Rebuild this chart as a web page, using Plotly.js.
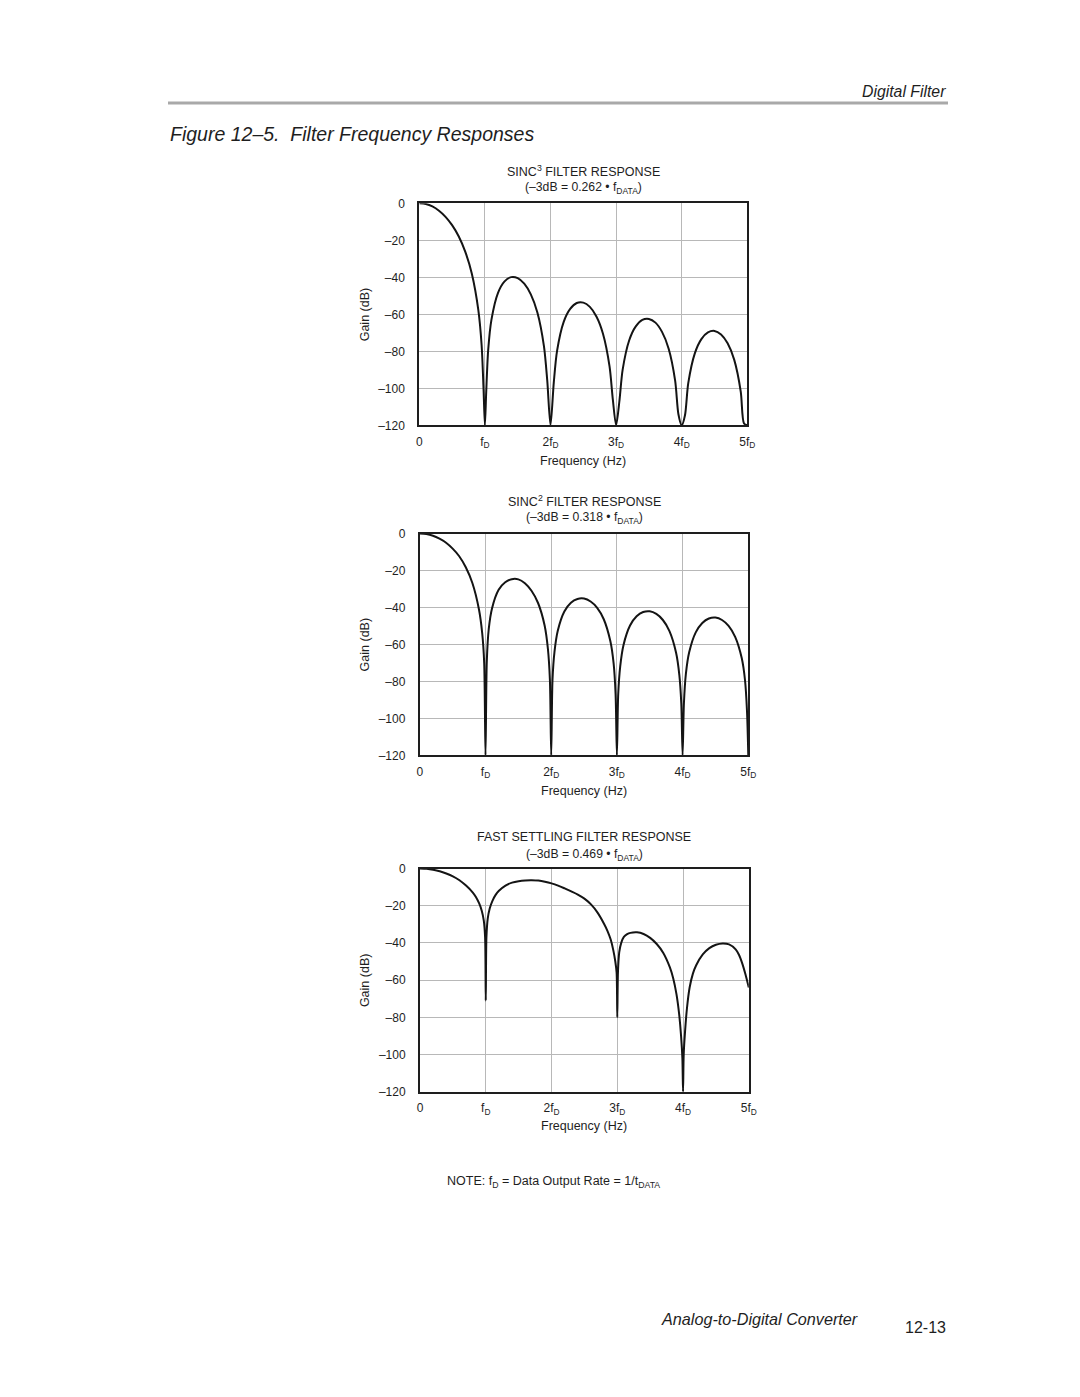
<!DOCTYPE html>
<html>
<head>
<meta charset="utf-8">
<script src="https://cdn.plot.ly/plotly-3.0.1.min.js"></script>
<style>
  html, body { margin: 0; padding: 0; background: #fff; }
  #chart { width: 1080px; height: 1397px; }
</style>
</head>
<body>
<div id="chart"></div>
<script>
// ---------------- DATA ----------------
// x in units of fD (data output rate), y in dB
const xTickVals = [0, 1, 2, 3, 4, 5];
const xTickText = ['0', 'f<sub>D</sub>', '2f<sub>D</sub>', '3f<sub>D</sub>', '4f<sub>D</sub>', '5f<sub>D</sub>'];
const yTickVals = [0, -20, -40, -60, -80, -100, -120];
const yTickText = ['0', '\u201320', '\u201340', '\u201360', '\u201380', '\u2013100', '\u2013120'];

// SINC3 filter response
const sinc3X = [0,0.1,0.2,0.3,0.4,0.5,0.6,0.7,0.8,0.9,0.95,0.98,1,1.02,1.05,1.1,1.2,1.3,1.4,1.5,1.6,1.7,1.8,1.9,1.95,2,2.05,2.1,2.2,2.3,2.4,2.5,2.6,2.7,2.8,2.9,2.95,3,3.05,3.1,3.2,3.3,3.4,3.5,3.6,3.7,3.8,3.9,3.95,4,4.05,4.1,4.2,4.3,4.4,4.5,4.6,4.7,4.8,4.9,4.95,5];
const sinc3Y = [0,-0.4,-1.7,-4.0,-7.3,-11.8,-17.8,-26.1,-37.9,-57.7,-76.7,-101,-120,-102,-79.4,-62.9,-48.4,-42.2,-39.9,-40.4,-43.4,-49.2,-59.0,-77.2,-95.6,-120,-96.9,-79.8,-64.2,-57.1,-53.9,-53.7,-56.0,-61.2,-70.5,-88.2,-106,-120,-107,-89.9,-74.0,-66.5,-63.0,-62.5,-64.5,-69.5,-78.5,-95.9,-114,-120,-114.6,-97.2,-81.1,-73.4,-69.8,-69.0,-70.9,-75.7,-84.5,-101.8,-119,-120];

// SINC2 filter response
const sinc2X = [0,0.1,0.2,0.3,0.4,0.5,0.6,0.7,0.8,0.9,0.95,0.98,1,1.02,1.05,1.1,1.2,1.3,1.4,1.5,1.6,1.7,1.8,1.9,1.95,1.98,2,2.02,2.05,2.1,2.2,2.3,2.4,2.5,2.6,2.7,2.8,2.9,2.95,2.98,3,3.02,3.05,3.1,3.2,3.3,3.4,3.5,3.6,3.7,3.8,3.9,3.95,3.98,4,4.02,4.05,4.1,4.2,4.3,4.4,4.5,4.6,4.7,4.8,4.9,4.95,4.98,5];
const sinc2Y = [0,-0.3,-1.2,-2.8,-5.0,-8.2,-12.3,-18.3,-26.8,-41,-54,-70,-120,-69,-51.5,-40.4,-30.5,-26.4,-24.7,-24.8,-26.9,-31,-37.6,-49.8,-62.5,-79,-120,-79,-64,-52.6,-42.2,-37.4,-35.4,-35.2,-36.8,-40.2,-46.4,-58.2,-70.3,-87,-120,-87,-72,-60.4,-49.8,-44.8,-42.5,-42.1,-43.5,-46.8,-52.8,-64.4,-76.5,-92,-120,-92,-76,-64.3,-53.5,-48.4,-46.0,-45.5,-46.8,-50,-55.9,-67.4,-79.4,-96,-120];

// Fast settling filter response
const fastX = [0,0.1,0.2,0.3,0.4,0.5,0.6,0.7,0.8,0.85,0.9,0.94,0.97,0.99,1,1.01,1.03,1.06,1.1,1.15,1.2,1.3,1.4,1.5,1.6,1.7,1.8,1.9,2,2.1,2.2,2.3,2.4,2.5,2.6,2.7,2.8,2.85,2.9,2.94,2.97,2.99,3,3.01,3.03,3.06,3.1,3.15,3.2,3.3,3.4,3.5,3.6,3.7,3.8,3.85,3.9,3.94,3.97,3.99,4,4.01,4.03,4.06,4.1,4.15,4.2,4.3,4.4,4.5,4.6,4.7,4.8,4.85,4.9,4.95,5];
const fastY = [0,-0.2,-0.7,-1.5,-2.7,-4.2,-6.3,-9.2,-12.8,-15.3,-18.8,-22.8,-28,-37,-71,-37,-27,-21.5,-17.5,-14.2,-12,-9.2,-7.6,-6.8,-6.4,-6.3,-6.5,-7.1,-8.0,-9.2,-10.7,-12.3,-14,-16.2,-19.3,-23.7,-29.8,-33.5,-38.2,-44,-50,-56,-80,-56,-45,-40,-36.8,-35.3,-34.6,-34.3,-35.2,-37.3,-40.6,-45.4,-53.2,-59,-67.5,-78,-90,-102,-120,-100,-88,-75,-64,-56.5,-52,-46.2,-42.8,-41,-40.3,-40.8,-43.5,-46.4,-51,-57,-64];

const chartTitles = ['SINC<sup>3</sup> FILTER RESPONSE', 'SINC<sup>2</sup> FILTER RESPONSE', 'FAST SETTLING FILTER RESPONSE'];
const chartSubtitles = ['(\u20133dB = 0.262 \u2022 f<sub>DATA</sub>)', '(\u20133dB = 0.318 \u2022 f<sub>DATA</sub>)', '(\u20133dB = 0.469 \u2022 f<sub>DATA</sub>)'];
const xTitle = 'Frequency (Hz)';
const yTitle = 'Gain (dB)';

// ---------------- LAYOUT ----------------
const W = 1080, H = 1397;
const px = x => x / W;
const py = y => 1 - y / H;
const FONT = 'Liberation Sans, Arial, Helvetica, sans-serif';
const INK = '#1e1e1e';

// pixel boxes of the three plot frames [left, right, top, bottom]
const boxes = [
  [419.3, 747.3, 203.3, 425.3],
  [419.8, 748.3, 533.5, 755.3],
  [420.0, 748.8, 868.5, 1091.7]
];

function xAxis(i) {
  const b = boxes[i];
  return {
    domain: [px(b[0]), px(b[1])], range: [0, 5], anchor: i === 0 ? 'y' : 'y' + (i + 1),
    tickvals: xTickVals, ticktext: xTickText, ticks: '', ticklabelstandoff: 4,
    tickfont: { family: FONT, size: 12, color: INK },
    showgrid: true, gridcolor: '#b8b8b8', gridwidth: 1, zeroline: false,
    showline: true, linecolor: INK, linewidth: 2, mirror: true, fixedrange: true
  };
}
function yAxis(i) {
  const b = boxes[i];
  return {
    domain: [py(b[3]), py(b[2])], range: [-120, 0], anchor: i === 0 ? 'x' : 'x' + (i + 1),
    tickvals: yTickVals, ticktext: yTickText, ticks: '', ticklabelstandoff: 10,
    tickfont: { family: FONT, size: 12, color: INK },
    showgrid: true, gridcolor: '#b8b8b8', gridwidth: 1, zeroline: false,
    showline: true, linecolor: INK, linewidth: 2, mirror: true, fixedrange: true
  };
}

const lineStyle = { color: '#141414', width: 2, shape: 'spline', smoothing: 0.8 };
const traces = [
  { x: sinc3X, y: sinc3Y, xaxis: 'x', yaxis: 'y', mode: 'lines', line: lineStyle, hoverinfo: 'skip' },
  { x: sinc2X, y: sinc2Y, xaxis: 'x2', yaxis: 'y2', mode: 'lines', line: lineStyle, hoverinfo: 'skip' },
  { x: fastX, y: fastY, xaxis: 'x3', yaxis: 'y3', mode: 'lines', line: lineStyle, hoverinfo: 'skip' }
];

function ann(text, x, y, size, opts) {
  return Object.assign({
    text: text, xref: 'paper', yref: 'paper', x: px(x), y: py(y),
    xanchor: 'center', yanchor: 'middle', showarrow: false,
    font: { family: FONT, size: size, color: INK }
  }, opts || {});
}

const titleY = [[170.7, 188.3], [500.7, 518.3], [836.7, 855.0]];
const xTitleY = [460.7, 790.7, 1125.7];
const yTitleY = [314.3, 644.4, 980.1];

const annotations = [
  ann('<i>Digital Filter</i>', 948, 91, 15.8, { xanchor: 'right' }),
  ann('<i>Figure 12\u20135.\u00a0 Filter Frequency Responses</i>', 168, 134, 19.5, { xanchor: 'left' }),
  ann('NOTE: f<sub>D</sub> = Data Output Rate = 1/t<sub>DATA</sub>', 553.5, 1182, 12.5),
  ann('<i>Analog-to-Digital Converter</i>', 860, 1319, 16.2, { xanchor: 'right' }),
  ann('12-13', 948, 1327, 16, { xanchor: 'right' })
];
for (let i = 0; i < 3; i++) {
  const cx = (boxes[i][0] + boxes[i][1]) / 2;
  annotations.push(ann(chartTitles[i], cx, titleY[i][0], 12.5));
  annotations.push(ann(chartSubtitles[i], cx, titleY[i][1], 12.2));
  annotations.push(ann(xTitle, cx, xTitleY[i], 12.5));
  annotations.push(ann(yTitle, 365, yTitleY[i], 12.5, { textangle: -90 }));
}

const layout = {
  width: W, height: H,
  margin: { l: 0, r: 0, t: 0, b: 0, pad: 0 },
  paper_bgcolor: '#ffffff', plot_bgcolor: '#ffffff',
  showlegend: false,
  font: { family: FONT, color: INK },
  xaxis: xAxis(0), yaxis: yAxis(0),
  xaxis2: xAxis(1), yaxis2: yAxis(1),
  xaxis3: xAxis(2), yaxis3: yAxis(2),
  annotations: annotations,
  shapes: [
    { type: 'line', xref: 'paper', yref: 'paper', x0: px(168), x1: px(948), y0: py(103), y1: py(103),
      line: { color: '#a9a9a9', width: 3 } }
  ]
};

Plotly.newPlot('chart', traces, layout, { staticPlot: true, displayModeBar: false });
</script>
</body>
</html>
